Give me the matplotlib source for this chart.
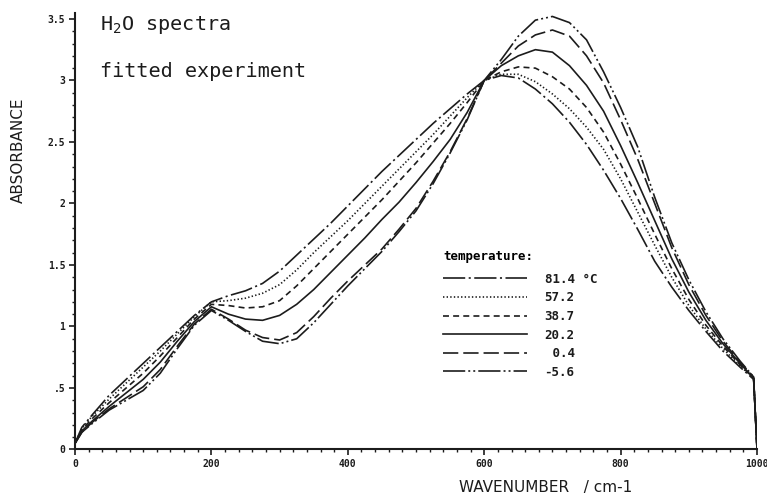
import matplotlib
matplotlib.use('Agg')
import matplotlib.pyplot as plt
from matplotlib.ticker import MultipleLocator

plt.rcParams['lines.scale_dashes'] = False
plt.rcParams['mathtext.fontset'] = 'custom'
plt.rcParams['mathtext.rm'] = 'DejaVu Sans Mono'

wavenumber = [0, 10, 25, 50, 75, 100, 125, 150, 175, 200, 225, 250, 275, 300,
              325, 350, 375, 400, 425, 450, 475, 500, 525, 550, 575, 600, 625,
              650, 675, 700, 725, 750, 775, 800, 825, 850, 875, 900, 925, 950,
              975, 995, 1000]

# absorbance at each temperature
abs_814 = [0.05, 0.18, 0.28, 0.44, 0.57, 0.70, 0.83, 0.96, 1.09, 1.20, 1.25, 1.29,
           1.35, 1.45, 1.58, 1.71, 1.84, 1.98, 2.12, 2.26, 2.39, 2.52, 2.65, 2.77,
           2.89, 3.00, 3.04, 3.02, 2.93, 2.81, 2.66, 2.48, 2.27, 2.04, 1.79, 1.53,
           1.32, 1.13, 0.96, 0.80, 0.67, 0.57, 0.00]
abs_572 = [0.05, 0.17, 0.27, 0.41, 0.54, 0.67, 0.80, 0.94, 1.08, 1.20, 1.21, 1.23,
           1.27, 1.34, 1.46, 1.60, 1.73, 1.86, 2.00, 2.14, 2.28, 2.42, 2.56, 2.71,
           2.86, 3.00, 3.05, 3.05, 2.99, 2.89, 2.77, 2.62, 2.44, 2.20, 1.93, 1.66,
           1.40, 1.17, 0.98, 0.82, 0.68, 0.58, 0.00]
abs_387 = [0.05, 0.16, 0.25, 0.38, 0.50, 0.62, 0.76, 0.91, 1.06, 1.18, 1.17, 1.15,
           1.16, 1.21, 1.33, 1.47, 1.61, 1.75, 1.89, 2.03, 2.18, 2.33, 2.49, 2.65,
           2.82, 3.00, 3.07, 3.11, 3.10, 3.03, 2.93, 2.78, 2.58, 2.32, 2.04, 1.75,
           1.47, 1.22, 1.01, 0.84, 0.69, 0.58, 0.00]
abs_202 = [0.05, 0.15, 0.23, 0.35, 0.46, 0.57, 0.71, 0.88, 1.04, 1.16, 1.10, 1.06,
           1.05, 1.09, 1.18, 1.30, 1.44, 1.58, 1.72, 1.87, 2.01, 2.17, 2.34, 2.52,
           2.74, 3.00, 3.12, 3.20, 3.25, 3.23, 3.12, 2.96, 2.75, 2.47, 2.17, 1.86,
           1.55, 1.28, 1.05, 0.86, 0.70, 0.58, 0.00]
abs_004 = [0.05, 0.14, 0.22, 0.33, 0.42, 0.51, 0.65, 0.84, 1.02, 1.14, 1.06, 0.97,
           0.91, 0.89, 0.95, 1.08, 1.23, 1.37, 1.50, 1.63, 1.79, 1.96, 2.18, 2.42,
           2.69, 3.00, 3.14, 3.28, 3.37, 3.41, 3.36, 3.20, 2.98, 2.68, 2.36, 2.00,
           1.64, 1.34, 1.09, 0.88, 0.71, 0.59, 0.00]
abs_m56 = [0.05, 0.14, 0.21, 0.32, 0.40, 0.48, 0.62, 0.82, 1.01, 1.13, 1.05, 0.96,
           0.88, 0.86, 0.90, 1.03, 1.18, 1.33, 1.47, 1.61, 1.77, 1.94, 2.16, 2.41,
           2.68, 3.00, 3.17, 3.36, 3.49, 3.52, 3.47, 3.33, 3.07, 2.78, 2.46, 2.05,
           1.68, 1.38, 1.12, 0.90, 0.72, 0.59, 0.00]

temp_labels = ['81.4 °C', '57.2', '38.7', '20.2', ' 0.4', '-5.6']

x_ticks = [0, 200, 400, 600, 800, 1000]
x_ticklabels = ['0', '200', '400', '600', '800', '1000']
y_ticks = [0, 0.5, 1, 1.5, 2, 2.5, 3, 3.5]
y_ticklabels = ['0', '.5', '1', '1.5', '2', '2.5', '3', '3.5']

# plotter-like dash patterns (in points)
styles = [
    (0, (16, 2.5, 1.5, 2.5)),            # long dash - dot
    (0, (1, 1.6)),                        # dotted
    (0, (4.3, 3.0)),                      # dashed
    '-',                                  # solid
    (0, (11, 3.6)),                       # long dashes
    (0, (16, 2.2, 1.4, 2.2, 1.4, 2.2)),   # dash - dot - dot
]

ink = '#1c1c1c'
mono = 'DejaVu Sans Mono'

fig = plt.figure(figsize=(7.67, 4.97), dpi=100)
ax = fig.add_axes([0.0978, 0.0956, 0.8892, 0.8787])

series = [abs_814, abs_572, abs_387, abs_202, abs_004, abs_m56]
for y, lab, ls in zip(series, temp_labels, styles):
    ax.plot(wavenumber, y, color=ink, lw=1.2, linestyle=ls, label=lab)

ax.set_xlim(0, 1000)
ax.set_ylim(0, 3.55)

for s in ['top', 'right']:
    ax.spines[s].set_visible(False)
for s in ['left', 'bottom']:
    ax.spines[s].set_linewidth(1.5)
    ax.spines[s].set_color(ink)

ax.set_xticks(x_ticks)
ax.set_xticklabels(x_ticklabels)
ax.set_yticks(y_ticks)
ax.set_yticklabels(y_ticklabels)
ax.xaxis.set_minor_locator(MultipleLocator(20))
ax.yaxis.set_minor_locator(MultipleLocator(0.1))
ax.tick_params(which='major', direction='out', length=4, width=1.2,
               color=ink, labelsize=7, pad=3)
ax.tick_params(which='minor', direction='out', length=2, width=1.0, color=ink)
for lbl in ax.get_xticklabels() + ax.get_yticklabels():
    lbl.set_fontfamily(mono)
    lbl.set_fontweight('bold')
    lbl.set_color(ink)

ax.set_ylabel('ABSORBANCE', fontsize=11, color=ink, va='center')
ax.yaxis.set_label_coords(-0.083, 0.686)
ax.set_xlabel('WAVENUMBER   / cm-1', fontsize=11, color=ink, va='center')
ax.xaxis.set_label_coords(0.69, -0.088)

ax.text(37, 3.45, r'H$_{\mathrm{2}}$O spectra', family=mono, fontsize=14.5,
        color=ink, va='center', ha='left')
ax.text(37, 3.07, 'fitted experiment', family=mono, fontsize=14.5,
        color=ink, va='center', ha='left')

leg = ax.legend(title='temperature:', loc='upper left',
                bbox_to_anchor=(0.54, 0.457), frameon=False,
                handlelength=6.7, handletextpad=1.4, labelspacing=0.45,
                borderpad=0, borderaxespad=0, alignment='left',
                prop={'family': mono, 'size': 9, 'weight': 'bold'},
                title_fontproperties={'family': mono, 'size': 9,
                                      'weight': 'bold'})
leg._legend_box.sep = 7
for t in leg.get_texts():
    t.set_color(ink)

fig.savefig('out.png', dpi=100)
